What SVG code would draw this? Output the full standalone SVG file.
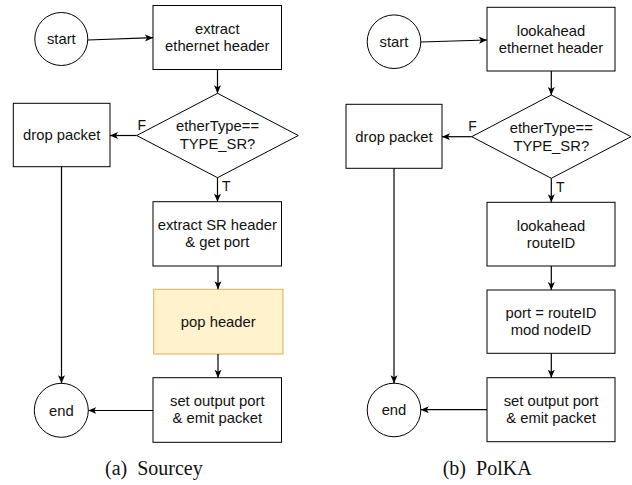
<svg xmlns="http://www.w3.org/2000/svg" width="632" height="485" viewBox="0 0 632 485">
  <style>
    .box { fill: #ffffff; stroke: #000000; stroke-width: 1; }
    .hl { fill: #fff2cc; stroke: #d6b656; stroke-width: 1; }
    .lbl { font-family: "Liberation Sans", Arial, sans-serif; font-size: 14.8px; fill: #111111; text-anchor: middle; }
    .tag { font-family: "Liberation Sans", Arial, sans-serif; font-size: 14px; fill: #111111; }
    .cap { font-family: "Liberation Serif", "Times New Roman", serif; font-size: 20px; fill: #111111; }
    .edge { fill: none; stroke: #000000; stroke-width: 1.2; marker-end: url(#arrow); }
  </style>
  <defs>
    <marker id="arrow" markerUnits="userSpaceOnUse" markerWidth="10" markerHeight="8" refX="8" refY="3.5" orient="auto">
      <path d="M0,0 L8,3.5 L0,7 L2,3.5 Z" fill="#000000"/>
    </marker>
  </defs>

  <rect width="632" height="485" fill="#ffffff"/>

  <!-- (a) Sourcey -->
  <g id="a-start"><circle class="box" cx="61.3" cy="39" r="26.5"/><text class="lbl" x="61.3" y="44">start</text></g>
  <g id="a-extract-eth"><rect class="box" x="153" y="5.5" width="128.5" height="64"/><text class="lbl" x="217.3" y="34">extract</text><text class="lbl" x="217.3" y="51">ethernet header</text></g>
  <g id="a-check"><polygon class="box" points="217.5,93.3 298.3,135.5 217.5,177.7 136.7,135.5"/><text class="lbl" x="217.5" y="131">etherType==</text><text class="lbl" x="217.5" y="149">TYPE_SR?</text></g>
  <g id="a-drop"><rect class="box" x="13.3" y="103.3" width="96.7" height="63.4"/><text class="lbl" x="61.7" y="140">drop packet</text></g>
  <g id="a-extract-sr"><rect class="box" x="153" y="201.7" width="128.5" height="64.3"/><text class="lbl" x="217.3" y="230">extract SR header</text><text class="lbl" x="217.3" y="247">&amp; get port</text></g>
  <g id="a-pop"><rect class="hl" x="153.7" y="289.3" width="129.3" height="64.7"/><text class="lbl" x="218.3" y="326.5">pop header</text></g>
  <g id="a-emit"><rect class="box" x="153" y="377.7" width="128.5" height="64.6"/><text class="lbl" x="217.3" y="406">set output port</text><text class="lbl" x="217.3" y="423">&amp; emit packet</text></g>
  <g id="a-end"><circle class="box" cx="61.3" cy="410.3" r="27"/><text class="lbl" x="61.3" y="415.5">end</text></g>

  <!-- (b) PolKA -->
  <g id="b-start"><circle class="box" cx="394" cy="41.7" r="26.8"/><text class="lbl" x="394" y="46.5">start</text></g>
  <g id="b-lookahead-eth"><rect class="box" x="487" y="7.3" width="128" height="63.7"/><text class="lbl" x="551" y="36">lookahead</text><text class="lbl" x="551" y="53">ethernet header</text></g>
  <g id="b-check"><polygon class="box" points="551.3,95 631,136.7 551.3,178.3 471.7,136.7"/><text class="lbl" x="551.3" y="132.5">etherType==</text><text class="lbl" x="551.3" y="150.5">TYPE_SR?</text></g>
  <g id="b-drop"><rect class="box" x="346" y="104.3" width="96" height="64"/><text class="lbl" x="394" y="141.5">drop packet</text></g>
  <g id="b-lookahead-route"><rect class="box" x="487" y="202.3" width="128" height="63.7"/><text class="lbl" x="551" y="231">lookahead</text><text class="lbl" x="551" y="248">routeID</text></g>
  <g id="b-port"><rect class="box" x="487" y="290" width="128" height="63.3"/><text class="lbl" x="551" y="318">port = routeID</text><text class="lbl" x="551" y="335">mod nodeID</text></g>
  <g id="b-emit"><rect class="box" x="487" y="377.7" width="128" height="64"/><text class="lbl" x="551" y="406">set output port</text><text class="lbl" x="551" y="423">&amp; emit packet</text></g>
  <g id="b-end"><circle class="box" cx="394" cy="410" r="26.8"/><text class="lbl" x="394" y="415">end</text></g>

  <g id="connectors">
    <!-- (a) -->
    <path class="edge" d="M87.8,40 L153,37.7"/>
    <path class="edge" d="M217.5,69.5 L217.5,93.3"/>
    <path class="edge" d="M136.7,135.5 L110,135.5"/>
    <path class="edge" d="M217.5,177.7 L217.5,201.7"/>
    <path class="edge" d="M218,266 L218,289.3"/>
    <path class="edge" d="M218,354 L218,377.7"/>
    <path class="edge" d="M61.5,166.7 L61.5,383.3"/>
    <path class="edge" d="M153,410.5 L88.3,410.5"/>
    <!-- (b) -->
    <path class="edge" d="M420.8,42 L487,40"/>
    <path class="edge" d="M551.3,71 L551.3,95"/>
    <path class="edge" d="M471.7,136.7 L442,136.7"/>
    <path class="edge" d="M551.3,178.3 L551.3,202.3"/>
    <path class="edge" d="M551.3,266 L551.3,290"/>
    <path class="edge" d="M551.3,353.3 L551.3,377.7"/>
    <path class="edge" d="M394,168.3 L394,383.2"/>
    <path class="edge" d="M487,409.7 L420.8,409.7"/>
  </g>

  <g id="edge-labels">
    <text class="tag" x="137.5" y="129.5">F</text>
    <text class="tag" x="222" y="190.5">T</text>
    <text class="tag" x="468.3" y="130.5">F</text>
    <text class="tag" x="556" y="191.7">T</text>
  </g>

  <g id="captions">
    <text class="cap" x="105" y="475">(a)<tspan dx="10">Sourcey</tspan></text>
    <text class="cap" x="442.7" y="475">(b)<tspan dx="10">PolKA</tspan></text>
  </g>
</svg>
